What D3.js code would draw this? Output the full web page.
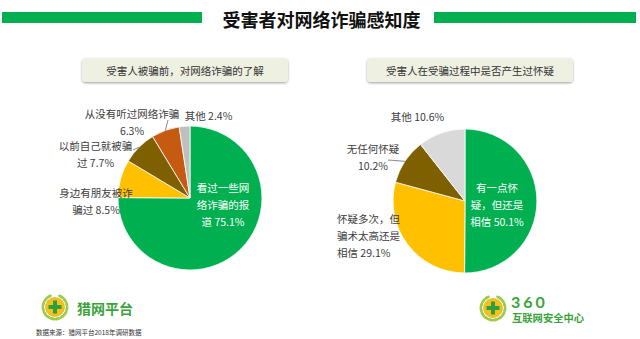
<!DOCTYPE html>
<html>
<head>
<meta charset="utf-8">
<script src="https://cdn.jsdelivr.net/npm/d3@7"></script>
<style>
  html, body { margin: 0; padding: 0; background: #fff; }
  svg { display: block; font-family: "Noto Sans CJK SC", "Noto Sans", sans-serif; }
</style>
</head>
<body>
<svg id="chart" width="640" height="339"></svg>
<script>
// ---- data ----
const chartTitle = "受害者对网络诈骗感知度";

const leftTitle = "受害人被骗前，对网络诈骗的了解";
const leftCategories = ["看过一些网络诈骗的报道", "身边有朋友被诈骗过", "以前自己就被骗过", "从没有听过网络诈骗", "其他"];
const leftValues = [75.1, 8.5, 7.7, 6.3, 2.4];
const leftLabelLines = [["看过一些网", "络诈骗的报", "道"], ["身边有朋友被诈", "骗过"], ["以前自己就被骗", "过"], ["从没有听过网络诈骗", ""], ["其他"]];

const rightTitle = "受害人在受骗过程中是否产生过怀疑";
const rightCategories = ["有一点怀疑，但还是相信", "怀疑多次，但骗术太高还是相信", "无任何怀疑", "其他"];
const rightValues = [50.1, 29.1, 10.2, 10.6];
const rightLabelLines = [["有一点怀", "疑，但还是", "相信"], ["怀疑多次，但", "骗术太高还是", "相信"], ["无任何怀疑", ""], ["其他"]];

const sourceNote = "数据来源：猎网平台2018年调研数据";

// ---- style ----
const GREEN = "#00b050";
const leftColors = [GREEN, "#ffc000", "#7f6000", "#c55a11", "#bfbfbf"];
const rightColors = [GREEN, "#ffc000", "#7f6000", "#d9d9d9"];
const TEXT = "#404040";
const FS = 10.5, LH = 17.3;

const svg = d3.select("#chart");

// title with bars
svg.append("rect").attr("x", 2).attr("y", 12).attr("width", 200).attr("height", 11).attr("fill", GREEN);
svg.append("rect").attr("x", 434).attr("y", 12).attr("width", 202).attr("height", 11).attr("fill", GREEN);
svg.append("text").attr("x", 321.5).attr("y", 19).attr("text-anchor", "middle")
  .attr("dominant-baseline", "central").attr("font-size", 18).attr("font-weight", "bold")
  .attr("fill", "#111").text(chartTitle);

// soft shadow for the caption boxes
const defs = svg.append("defs");
const f = defs.append("filter").attr("id", "boxShadow").attr("x", "-10%").attr("y", "-30%").attr("width", "120%").attr("height", "170%");
f.append("feDropShadow").attr("dx", 0).attr("dy", 1.2).attr("stdDeviation", 0.9).attr("flood-color", "#000").attr("flood-opacity", 0.35);

function captionBox(x, y, w, h, label) {
  svg.append("rect").attr("x", x).attr("y", y).attr("width", w).attr("height", h)
    .attr("rx", 4).attr("fill", "#eef0e2").attr("filter", "url(#boxShadow)");
  svg.append("text").attr("x", x + w / 2).attr("y", y + h / 2).attr("text-anchor", "middle")
    .attr("dominant-baseline", "central").attr("font-size", FS).attr("fill", "#333").text(label);
}
captionBox(82, 58, 206, 24, leftTitle);
captionBox(367, 58, 206, 24, rightTitle);

// label placement relative to each pie centre: [dx, dy of first line, anchor, colour]
const leftLabelPos = [[33, -11, "middle", "#fff"], [-94, -6, "middle", TEXT], [-94.5, -53, "middle", TEXT], [-58, -85, "middle", TEXT], [18.5, -83, "middle", TEXT]];
const rightLabelPos = [[32, -14, "middle", "#fff"], [-128, 17, "start", TEXT], [-92, -53, "middle", TEXT], [-47.5, -85, "middle", TEXT]];
// leader lines: slice index -> label end point offset
const leftLeaders = [[3, -22, -78], [2, -57, -48]];
const rightLeaders = [[2, -77, -41]];

function drawPie(cx, cy, r, cats, vals, colors, lines, pos, leaders) {
  const data = cats.map((c, i) => ({ c, v: vals[i], i }));
  const arcs = d3.pie().sort(null).value(d => d.v)(data);
  const arc = d3.arc().innerRadius(0).outerRadius(r);
  const g = svg.append("g").attr("transform", `translate(${cx},${cy})`);
  g.selectAll("path").data(arcs).join("path")
    .attr("d", arc).attr("fill", d => colors[d.data.i])
    .attr("stroke", "#fff").attr("stroke-width", 0.8);

  leaders.forEach(([i, lx, ly]) => {
    const a = arcs[i];
    const mid = (a.startAngle + a.endAngle) / 2;
    g.append("line")
      .attr("x1", Math.sin(mid) * r).attr("y1", -Math.cos(mid) * r)
      .attr("x2", lx).attr("y2", ly)
      .attr("stroke", "#595959").attr("stroke-width", 0.7);
  });

  arcs.forEach((a, k) => {
    const [dx, dy, anchor, col] = pos[k];
    const ls = lines[k].slice();
    const last = ls.length - 1;
    ls[last] = (ls[last] ? ls[last] + " " : "") + d3.format(".1f")(a.data.v) + "%";
    const t = g.append("text").attr("text-anchor", anchor).attr("font-size", FS).attr("fill", col);
    ls.forEach((s, j) => {
      t.append("tspan").attr("x", dx).attr("y", dy + j * LH).attr("dominant-baseline", "central").text(s);
    });
  });
}

drawPie(190, 198, 72, leftCategories, leftValues, leftColors, leftLabelLines, leftLabelPos, leftLeaders);
drawPie(465, 201, 72, rightCategories, rightValues, rightColors, rightLabelLines, rightLabelPos, rightLeaders);

// emblem: laurel wreath, yellow disc and green cross
function emblem(cx, cy) {
  const g = svg.append("g").attr("transform", `translate(${cx},${cy})`);
  [-1, 1].forEach(side => {
    d3.range(0, 7).forEach(k => {
      const t = 12 + k * 23;             // degrees up from the bottom
      const rad = t * Math.PI / 180;
      const x = side * Math.sin(rad) * 12, y = Math.cos(rad) * 12;
      g.append("ellipse").attr("cx", x).attr("cy", y).attr("rx", 3.2).attr("ry", 1.5)
        .attr("transform", `rotate(${-side * t},${x},${y})`)
        .attr("fill", "#9ccc4a");
    });
  });
  g.append("circle").attr("r", 9.5).attr("fill", "#f4c21b").attr("stroke", "#d9a300").attr("stroke-width", 0.6);
  g.append("path").attr("d", "M-2,-6.5H2V-2H6.5V2H2V6.5H-2V2H-6.5V-2H-2Z").attr("fill", "#2e9e3e");
}

emblem(55, 307);
svg.append("text").attr("x", 77).attr("y", 308).attr("dominant-baseline", "central")
  .attr("font-size", 14).attr("font-weight", "bold").attr("fill", "#3aa33a").text("猎网平台");
svg.append("text").attr("x", 36).attr("y", 332).attr("dominant-baseline", "central")
  .attr("font-size", 6.5).attr("fill", "#333").text(sourceNote);

emblem(493, 308);
svg.append("text").attr("x", 511).attr("y", 307.5)
  .attr("font-size", 16).attr("font-weight", "bold").attr("letter-spacing", 3)
  .attr("font-family", "Lato, 'DejaVu Sans', sans-serif").attr("fill", "#3aa33a").text("360");
svg.append("text").attr("x", 512).attr("y", 317).attr("dominant-baseline", "central")
  .attr("font-size", 10.3).attr("font-weight", "bold").attr("fill", "#3aa33a").text("互联网安全中心");
</script>
</body>
</html>
